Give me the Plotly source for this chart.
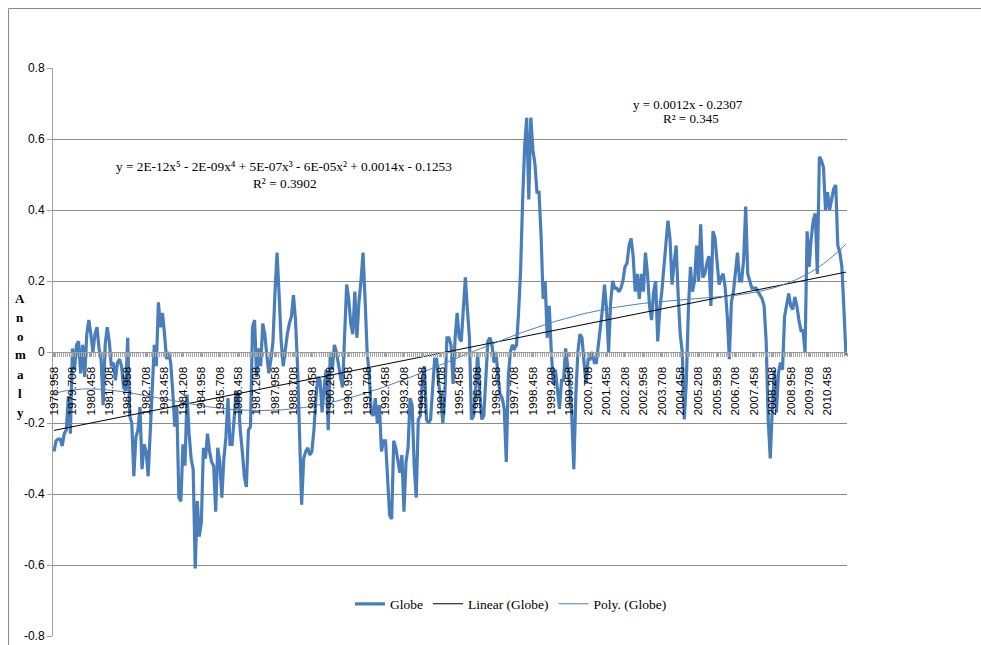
import numpy as np
import plotly.graph_objects as go

# Monthly global anomaly, Dec 1978 onwards
globe = [
    -0.28, -0.25, -0.245, -0.245, -0.265, -0.23, -0.22, -0.125, -0.23, 0.01, -0.05, 0.02,
    0.03, -0.06, 0.02, -0.07, 0.05, 0.09, 0.05, 0.0, 0.05, 0.07, 0.01, -0.02,
    -0.15, 0.02, 0.07, 0.03, -0.04, -0.03, -0.08, -0.03, -0.02, -0.04, -0.10, -0.11,
    0.04, -0.18, -0.20, -0.35, -0.24, -0.22, -0.155, -0.33, -0.26, -0.28, -0.35, -0.22,
    -0.14, 0.02, -0.04, 0.14, 0.07, 0.11, 0.05, -0.02, 0.0, -0.03, -0.11, -0.21,
    -0.15, -0.41, -0.42, -0.26, -0.32, -0.12, -0.23, -0.30, -0.33, -0.61, -0.42, -0.52,
    -0.48, -0.27, -0.30, -0.23, -0.28, -0.31, -0.32, -0.45, -0.27, -0.31, -0.41, -0.30,
    -0.24, -0.13, -0.26, -0.26, -0.19, -0.11, -0.12, -0.22, -0.28, -0.35, -0.38, -0.22,
    -0.21, 0.07, 0.09, -0.07, 0.01, -0.04, 0.08, 0.05, -0.01, -0.06, -0.02, 0.03,
    0.17, 0.28, 0.16, 0.03, -0.04, 0.01, 0.05, 0.08, 0.10, 0.16, 0.09, -0.04,
    -0.22, -0.43, -0.30, -0.28, -0.27, -0.29, -0.28, -0.22, -0.13, -0.07, -0.08, -0.17,
    -0.10, -0.05, -0.22, 0.0, -0.05, 0.02, 0.0, -0.04, -0.07, -0.10, 0.03, 0.19,
    0.15, 0.08, 0.05, 0.17, 0.04, 0.14, 0.20, 0.28, 0.15, 0.0, -0.06, -0.17,
    -0.18, -0.13, -0.20, -0.15, -0.28, -0.25, -0.25, -0.36, -0.46, -0.47, -0.25, -0.27,
    -0.30, -0.34, -0.29, -0.45, -0.31, -0.27, -0.13, -0.15, -0.32, -0.41, -0.19, -0.18,
    -0.08, -0.04, -0.19, -0.20, -0.19, -0.11, -0.02, -0.02, -0.09, -0.13, -0.20, -0.12,
    0.04, 0.04, 0.02, -0.09, 0.04, 0.11, 0.04, 0.03, 0.12, 0.21, 0.12, 0.04,
    -0.19, -0.18, -0.11, 0.0, -0.11, -0.19, -0.18, -0.05, 0.03, 0.04, 0.02, -0.03,
    0.0, -0.07, -0.12, -0.13, -0.16, -0.31, -0.07, 0.0, 0.02, 0.01, 0.02, 0.11,
    0.23, 0.43, 0.58, 0.66, 0.43, 0.66, 0.57, 0.53, 0.45, 0.45, 0.33, 0.15,
    0.20, 0.04, 0.13, 0.0, -0.09, -0.05, -0.10, -0.16, -0.08, -0.08, 0.01, -0.04,
    -0.09, -0.18, -0.33, -0.12, 0.0, 0.05, 0.04, -0.03, -0.09, -0.02, -0.02, 0.0,
    -0.03, -0.03, 0.02, 0.06, 0.12, 0.19, 0.12, 0.0, 0.14, 0.20, 0.18, 0.18,
    0.17, 0.18, 0.20, 0.24, 0.25, 0.30, 0.32, 0.27, 0.17, 0.22, 0.15, 0.22,
    0.17, 0.28, 0.22, 0.13, 0.09, 0.17, 0.20, 0.03, 0.12, 0.17, 0.24, 0.29,
    0.37, 0.32, 0.19, 0.25, 0.30, 0.16, 0.05, 0.0, -0.19, -0.08, 0.12, 0.24,
    0.17, 0.20, 0.30, 0.20, 0.36, 0.21, 0.22, 0.25, 0.27, 0.13, 0.34, 0.32,
    0.25, 0.19, 0.21, 0.22, 0.18, 0.10, -0.02, 0.14, 0.17, 0.22, 0.28, 0.20,
    0.20, 0.26, 0.41, 0.22, 0.20, 0.18, 0.18, 0.18, 0.17, 0.16, 0.15, 0.13,
    0.03, -0.19, -0.30, -0.16, -0.05, -0.17, -0.06, -0.03, -0.05, 0.10, 0.14, 0.165,
    0.13, 0.12, 0.155, 0.13, 0.09, 0.06, 0.06, 0.0, 0.34, 0.24, 0.32, 0.37,
    0.39, 0.22, 0.55, 0.54, 0.52, 0.40, 0.45, 0.40, 0.43, 0.46, 0.47, 0.30,
    0.28, 0.24, 0.12, -0.01,
]

# Category labels shown on the axis (every 9th month)
tick_labels = [
    "1978.958", "1979.708", "1980.458", "1981.208", "1981.958", "1982.708",
    "1983.458", "1984.208", "1984.958", "1985.708", "1986.458", "1987.208",
    "1987.958", "1988.708", "1989.458", "1990.208", "1990.958", "1991.708",
    "1992.458", "1993.208", "1993.958", "1994.708", "1995.458", "1996.208",
    "1996.958", "1997.708", "1998.458", "1999.208", "1999.958", "2000.708",
    "2001.458", "2002.208", "2002.958", "2003.708", "2004.458", "2005.208",
    "2005.958", "2006.708", "2007.458", "2008.208", "2008.958", "2009.708",
    "2010.458",
]
label_step = 9

y_tick_vals = [0.8, 0.6, 0.4, 0.2, 0.0, -0.2, -0.4, -0.6, -0.8]
y_tick_text = ["0.8", "0.6", "0.4", "0.2", "0", "-0.2", "-0.4", "-0.6", "-0.8"]

poly_eq = "y = 2E-12x\u2075 - 2E-09x\u2074 + 5E-07x\u00b3 - 6E-05x\u00b2 + 0.0014x - 0.1253"
poly_r2 = "R\u00b2 = 0.3902"
lin_eq = "y = 0.0012x - 0.2307"
lin_r2 = "R\u00b2 = 0.345"

# ---------------------------------------------------------------
n = len(globe)
xs = np.arange(1, n + 1, dtype=float)
ys = np.array(globe, dtype=float)
lin_fit = np.polyval(np.polyfit(xs, ys, 1), xs)
poly_fit = np.polyval(np.polyfit(xs, ys, 5), xs)
tick_pos = [1 + label_step * k for k in range(len(tick_labels))]

W, H = 981, 645
ML, MT = 53, 68
PLOT_R, PLOT_B = 847, 636
MR, MB = W - PLOT_R, H - PLOT_B
PW, PH = W - ML - MR, H - MT - MB


def px(x):  # page x -> paper
    return (x - ML) / PW


def py(y):  # page y -> paper
    return (H - MB - y) / PH


BLUE = "#4a7ebb"
SANS = "Liberation Sans"
SERIF = "Liberation Serif"

fig = go.Figure()
fig.add_trace(go.Scatter(x=xs, y=ys, mode="lines", name="Globe",
                         line=dict(color=BLUE, width=3.2)))
fig.add_trace(go.Scatter(x=xs, y=lin_fit, mode="lines", name="Linear (Globe)",
                         line=dict(color="#000000", width=1)))
fig.add_trace(go.Scatter(x=xs, y=poly_fit, mode="lines", name="Poly. (Globe)",
                         line=dict(color="#4f81bd", width=1)))

ann = []
def text_at(t, x, y, size, font=SERIF, bold=False):
    ann.append(dict(text=("<b>%s</b>" % t) if bold else t, x=px(x), y=py(y),
                    xref="paper", yref="paper", showarrow=False,
                    xanchor="center", yanchor="middle",
                    font=dict(family=font, size=size, color="#000000")))

text_at(poly_eq, 284, 166, 13.3)
text_at(poly_r2, 285, 183, 13.3)
text_at(lin_eq, 688, 104, 13)
text_at(lin_r2, 691, 118, 13)
for k, ch in enumerate("Anomaly"):
    text_at(ch, 20, 298 + k * 19, 13, bold=True)

fig.update_layout(
    width=W, height=H,
    margin=dict(l=ML, r=MR, t=MT, b=MB, pad=0, autoexpand=False),
    paper_bgcolor="white", plot_bgcolor="white",
    showlegend=True,
    legend=dict(orientation="h", x=px(511), y=py(604), xanchor="center",
                yanchor="middle", bgcolor="rgba(0,0,0,0)",
                font=dict(family=SERIF, size=13.5, color="#000000")),
    annotations=ann,
    shapes=[dict(type="rect", xref="paper", yref="paper",
                 x0=px(8.5), x1=px(1020), y0=py(700), y1=py(8.5),
                 line=dict(color="#8a8a8a", width=1), layer="below")],
    xaxis=dict(range=[0.5, n + 0.5], tickmode="array", tickvals=tick_pos,
               ticktext=tick_labels, tickangle=-90, anchor="free", position=0.5,
               showline=True, linecolor="#9a9a9a", linewidth=1,
               ticks="outside", ticklen=4, tickcolor="#9a9a9a",
               minor=dict(tickmode="linear", tick0=0.5, dtick=1, ticks="outside",
                          ticklen=4, tickcolor="#a8a8a8", showgrid=False),
               ticklabelstandoff=5, automargin=False,
               showgrid=False, zeroline=False,
               tickfont=dict(family=SANS, size=11.7, color="#000000")),
    yaxis=dict(range=[-0.8, 0.8], tickmode="array", tickvals=y_tick_vals,
               ticktext=y_tick_text, showline=True, linecolor="#a0a0a0",
               ticks="outside", ticklen=5, tickcolor="#a0a0a0", automargin=False,
               showgrid=True, gridcolor="#8c8c8c", gridwidth=1, zeroline=False,
               tickfont=dict(family=SANS, size=12, color="#000000")),
)

fig.write_html(
    "out.html",
    config={"displayModeBar": False},
    post_script="document.body.style.margin='0';"
                "document.documentElement.style.overflow='hidden';",
)
